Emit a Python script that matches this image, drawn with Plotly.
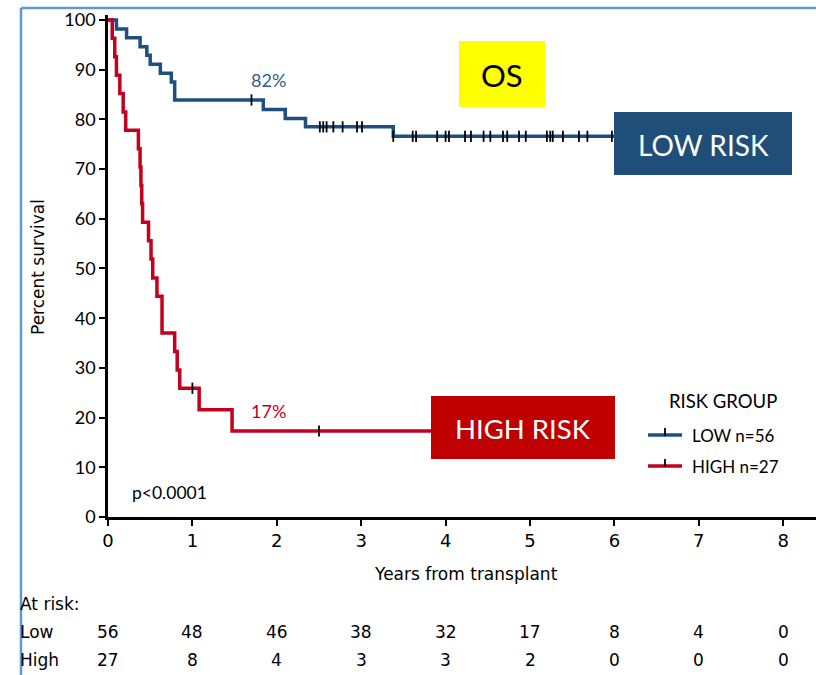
import numpy as np
import plotly.graph_objects as go

# Kaplan-Meier step curves (years, percent surviving after each event)
low_times = [0, 0.10, 0.22, 0.38, 0.46, 0.50, 0.62, 0.75, 0.79, 1.84, 2.10, 2.34, 3.38, 6.05]
low_surv = [100, 98.2, 96.4, 94.6, 92.9, 91.1, 89.3, 87.5, 83.9, 82.0, 80.2, 78.5, 76.6, 76.6]
low_censor = [1.70, 2.51, 2.55, 2.59, 2.67, 2.78, 2.95, 3.01, 3.38, 3.61, 3.65, 3.90, 4.00,
              4.04, 4.23, 4.30, 4.45, 4.53, 4.68, 4.73, 4.87, 4.95, 5.20, 5.24, 5.27, 5.39,
              5.58, 5.68, 5.97]

high_times = [0, 0.05, 0.08, 0.10, 0.14, 0.18, 0.21, 0.36, 0.38, 0.39, 0.40, 0.41, 0.48,
              0.51, 0.53, 0.58, 0.64, 0.79, 0.82, 0.85, 1.08, 1.47, 5.50]
high_surv = [100, 96.3, 92.6, 88.9, 85.2, 81.5, 77.8, 74.1, 70.4, 66.7, 63.0, 59.3, 55.6,
             51.9, 48.1, 44.4, 37.0, 33.3, 29.6, 25.9, 21.6, 17.3, 17.3]
high_censor = [1.00, 2.50]

# Numbers at risk table
risk_years = [0, 1, 2, 3, 4, 5, 6, 7, 8]
risk_low = [56, 48, 46, 38, 32, 17, 8, 4, 0]
risk_high = [27, 8, 4, 3, 3, 2, 0, 0, 0]

x_ticks = [0, 1, 2, 3, 4, 5, 6, 7, 8]
y_ticks = [0, 10, 20, 30, 40, 50, 60, 70, 80, 90, 100]

BLUE = "#1F4E80"
RED = "#C4001F"
BOX_BLUE = "#1F4E79"
BOX_RED = "#C00000"
FRAME = "#5B9BD5"
COND = "DejaVu Sans"
SANS = "Lato, Open Sans, sans-serif"

W, H = 816, 675
L, R, T, B = 108, 0, 15, 158
PX_PER_YEAR = 84.4
x_max = (W - L - R) / PX_PER_YEAR


def xp(px):
    return (px - L) / (W - L - R)


def yp(py):
    return (H - B - py) / (H - T - B)


def step_value(times, surv, t):
    i = np.searchsorted(np.asarray(times), t, side="right") - 1
    return surv[max(i, 0)]


def label(text, px, py, size, color="black", family=SANS, xanchor="center", **kw):
    return dict(text=text, xref="paper", yref="paper", x=xp(px), y=yp(py), xanchor=xanchor,
                yanchor="middle", showarrow=False, font=dict(family=family, size=size, color=color), **kw)


fig = go.Figure()

for times, surv, col in [(low_times, low_surv, BLUE), (high_times, high_surv, RED)]:
    fig.add_trace(go.Scatter(x=times, y=surv, mode="lines", line=dict(color=col, width=3.5, shape="hv"),
                             showlegend=False, hoverinfo="skip"))

for times, surv, cens in [(low_times, low_surv, low_censor), (high_times, high_surv, high_censor)]:
    fig.add_trace(go.Scatter(x=cens, y=[step_value(times, surv, c) for c in cens], mode="markers",
                             marker=dict(symbol="line-ns", size=8, line=dict(color="black", width=1.8)),
                             showlegend=False, hoverinfo="skip"))

shapes = []
annotations = []

# frame lines
shapes.append(dict(type="line", xref="paper", yref="paper", x0=xp(21), x1=xp(816), y0=yp(8), y1=yp(8),
                   line=dict(color=FRAME, width=2.5)))
shapes.append(dict(type="line", xref="paper", yref="paper", x0=xp(21), x1=xp(21), y0=yp(8), y1=yp(675),
                   line=dict(color=FRAME, width=2.5), layer="above"))

# OS label box
shapes.append(dict(type="rect", xref="paper", yref="paper", x0=xp(459), x1=xp(545), y0=yp(41), y1=yp(107),
                   fillcolor="#FFFF00", line=dict(width=0), layer="above"))
annotations.append(label("OS", 502, 75, 31))

# risk group boxes
shapes.append(dict(type="rect", xref="paper", yref="paper", x0=xp(614), x1=xp(792), y0=yp(112), y1=yp(175),
                   fillcolor=BOX_BLUE, line=dict(width=0), layer="above"))
annotations.append(label("LOW RISK", 703, 145, 28, color="white"))
shapes.append(dict(type="rect", xref="paper", yref="paper", x0=xp(431), x1=xp(615), y0=yp(396), y1=yp(459),
                   fillcolor=BOX_RED, line=dict(width=0), layer="above"))
annotations.append(label("HIGH RISK", 523, 429, 27.5, color="white"))

# percent labels and p-value
annotations.append(label("82%", 268, 80, 18, color="#2F5D8C"))
annotations.append(label("17%", 268, 411, 18, color=RED))
annotations.append(label("p<0.0001", 169, 492, 17.5))

# legend
annotations.append(label("RISK GROUP", 723, 401, 18.5))
for text, col, py in [("LOW n=56", BLUE, 435), ("HIGH n=27", RED, 466)]:
    shapes.append(dict(type="line", xref="paper", yref="paper", x0=xp(648), x1=xp(682), y0=yp(py), y1=yp(py),
                       line=dict(color=col, width=3.5), layer="above"))
    shapes.append(dict(type="line", xref="paper", yref="paper", x0=xp(665), x1=xp(665), y0=yp(py - 7),
                       y1=yp(py + 1), line=dict(color="black", width=1.8), layer="above"))
    annotations.append(label(text, 690, py, 17, xanchor="left"))

# axis titles
annotations.append(label("Percent survival", 38, 267, 17, family=COND, textangle=-90))
annotations.append(label("Years from transplant", 466, 574, 17, family=COND))

# at-risk table
annotations.append(label("At risk:", 18, 604, 17, family=COND, xanchor="left"))
for name, counts, py in [("Low", risk_low, 632), ("High", risk_high, 660)]:
    annotations.append(label(name, 18, py, 17, family=COND, xanchor="left"))
    for yr, n in zip(risk_years, counts):
        annotations.append(dict(text=str(n), x=yr, xref="x", yref="paper", y=yp(py), xanchor="center",
                                yanchor="middle", showarrow=False,
                                font=dict(family=COND, size=17, color="black")))

fig.update_layout(
    width=W, height=H,
    margin=dict(l=L, r=R, t=T, b=B),
    paper_bgcolor="white", plot_bgcolor="white",
    shapes=shapes, annotations=annotations,
    xaxis=dict(range=[0, x_max], tickvals=x_ticks, showgrid=False, zeroline=False,
               showline=True, linecolor="black", linewidth=2.5,
               ticks="outside", ticklen=6, tickwidth=2, tickcolor="black",
               tickfont=dict(family=COND, size=18, color="black")),
    yaxis=dict(range=[0, 101], tickvals=y_ticks, showgrid=False, zeroline=False,
               showline=True, linecolor="black", linewidth=2.5,
               ticks="outside", ticklen=6, tickwidth=2, tickcolor="black",
               tickfont=dict(family=SANS, size=18, color="black")),
)

fig.write_html("out.html")
